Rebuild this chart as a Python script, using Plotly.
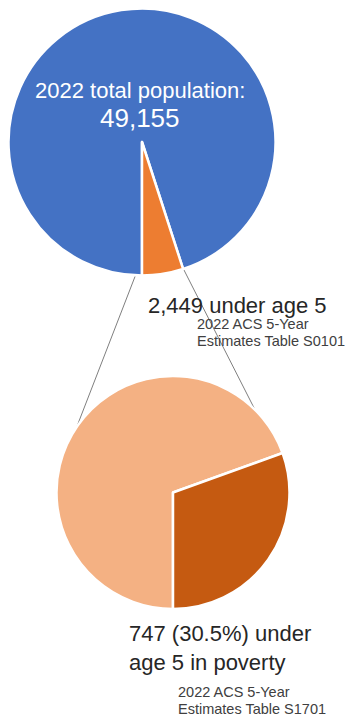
import math
import plotly.graph_objects as go

# ---------------- data ----------------
top_labels = ["Age 5 and over", "Under age 5"]
top_values = [46706, 2449]          # total 49,155
top_colors = ["#4472C4", "#ED7D31"]

bottom_labels = ["Under age 5 not in poverty", "Under age 5 in poverty"]
bottom_values = [1702, 747]         # total 2,449
bottom_colors = ["#F4B183", "#C55A11"]

title_line1 = "2022 total population:"
title_line2 = "49,155"
under5_label = "2,449 under age 5"
under5_source = ["2022 ACS 5-Year", "Estimates Table S0101"]
poverty_label = "747 (30.5%) under<br>age 5 in poverty"
poverty_source = ["2022 ACS 5-Year", "Estimates Table S1701"]

# ---------------- layout geometry (pixels in the page) ----------------
PAGE_OFF = 8                       # default body margin of the html page
W, H = 354 - PAGE_OFF, 717 - PAGE_OFF
TOP_C, TOP_R = (142.0, 142.0), 133.5
BOT_C, BOT_R = (173.0, 492.5), 116.5


def px_to_paper(x, y):
    return (x - PAGE_OFF) / W, 1 - (y - PAGE_OFF) / H


def domain(c, r):
    x0, y0 = px_to_paper(c[0] - r, c[1] + r)
    x1, y1 = px_to_paper(c[0] + r, c[1] - r)
    return dict(x=[x0, x1], y=[y0, y1])


def on_circle(c, r, deg):
    a = math.radians(deg)
    return c[0] + r * math.cos(a), c[1] - r * math.sin(a)


fig = go.Figure()

fig.add_trace(go.Pie(
    labels=top_labels, values=top_values, sort=False,
    direction="clockwise", rotation=180,
    marker=dict(colors=top_colors, line=dict(color="white", width=2.5)),
    textinfo="none", hoverinfo="label+value", showlegend=False,
    domain=domain(TOP_C, TOP_R),
))
fig.add_trace(go.Pie(
    labels=bottom_labels, values=bottom_values, sort=False,
    direction="clockwise", rotation=180,
    marker=dict(colors=bottom_colors, line=dict(color="white", width=2.5)),
    textinfo="none", hoverinfo="label+value", showlegend=False,
    domain=domain(BOT_C, BOT_R),
))

# connector lines from the under-5 wedge to the second pie
share = top_values[1] / sum(top_values)
wedge_start = -90 - 2.5
wedge_end = -90 + 360 * share
for a_top, a_bot in [(wedge_start, 151), (wedge_end, 42)]:
    x0, y0 = on_circle(TOP_C, TOP_R - 2, a_top)
    x1, y1 = on_circle(BOT_C, BOT_R - 2, a_bot)
    p0 = px_to_paper(x0, y0)
    p1 = px_to_paper(x1, y1)
    fig.add_shape(type="line", xref="paper", yref="paper",
                  x0=p0[0], y0=p0[1], x1=p1[0], y1=p1[1],
                  line=dict(color="#7F7F7F", width=1), layer="below")

FONT = "Arial, Liberation Sans, sans-serif"


def ann(text, x, y, size, color, xanchor="left"):
    px, py = px_to_paper(x, y)
    fig.add_annotation(text=text, x=px, y=py, xref="paper", yref="paper",
                       xanchor=xanchor, yanchor="middle", showarrow=False,
                       align="left" if xanchor == "left" else "center",
                       font=dict(family=FONT, size=size, color=color))


ann(title_line1, 140, 90, 22, "white", "center")
ann(title_line2, 139.5, 118, 26, "white", "center")
ann(under5_label, 146, 305, 22, "#262626")
ann(under5_source[0], 195, 324, 14.5, "#404040")
ann(under5_source[1], 195, 341, 14.5, "#404040")
ann(poverty_label, 127, 648, 22, "#262626")
ann(poverty_source[0], 176, 692, 14.5, "#404040")
ann(poverty_source[1], 176, 709, 14.5, "#404040")

fig.update_layout(
    width=W, height=H,
    margin=dict(l=0, r=0, t=0, b=0),
    paper_bgcolor="white", plot_bgcolor="white",
    showlegend=False,
)

fig.write_html("out.html", config={"displayModeBar": False})
